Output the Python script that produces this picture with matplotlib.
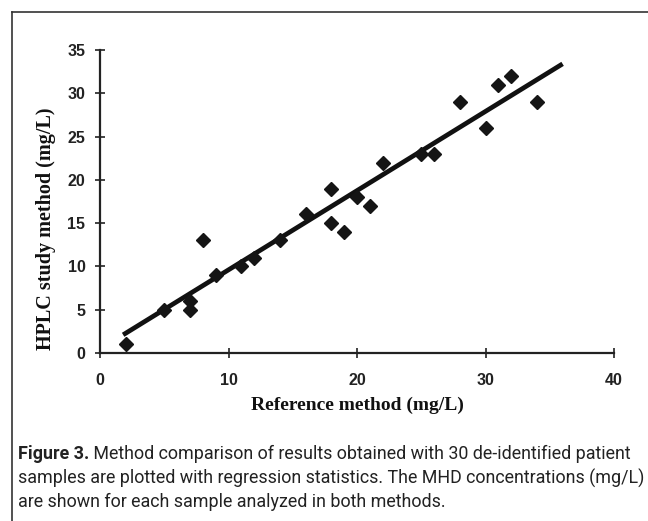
import matplotlib.pyplot as plt
from matplotlib.lines import Line2D

# reference method vs HPLC study method (mg/L)
ref_mgl = [2, 5, 7, 7, 8, 9, 11, 12, 14, 16, 18, 18, 19, 20, 21, 22,
           25, 26, 28, 30, 31, 32, 34]
hplc_mgl = [1, 5, 6, 5, 13, 9, 10, 11, 13, 16, 19, 15, 14, 18, 17, 22,
            23, 23, 29, 26, 31, 32, 29]

# regression line end points
fit_x = [1.8, 36.0]
fit_y = [2.1, 33.4]

x_ticks = [0, 10, 20, 30, 40]
y_ticks = [0, 5, 10, 15, 20, 25, 30, 35]

caption_bold = "Figure 3."
caption_lines = [
    " Method comparison of results obtained with 30 de-identified patient",
    "samples are plotted with regression statistics. The MHD concentrations (mg/L)",
    "are shown for each sample analyzed in both methods.",
]

W, H = 648, 521
fig = plt.figure(figsize=(W / 100, H / 100), dpi=100)
ax = fig.add_axes([100 / W, 1 - 353 / H, 514 / W, 303 / H])

ax.plot(fit_x, fit_y, color="#111111", linewidth=3.4, solid_capstyle="butt", zorder=2)
ax.plot(ref_mgl, hplc_mgl, linestyle="none", marker="D", markersize=7.6,
        color="#151515", zorder=3)

ax.set_xlim(0, 40)
ax.set_ylim(0, 35)
ax.set_xticks(x_ticks)
ax.set_yticks(y_ticks)

for side in ["top", "right"]:
    ax.spines[side].set_visible(False)
for side in ["left", "bottom"]:
    ax.spines[side].set_linewidth(1.6)
    ax.spines[side].set_color("#222222")

ax.tick_params(axis="both", direction="inout", length=7, width=1.2, colors="#222222")
ax.tick_params(axis="y", pad=7)
ax.tick_params(axis="x", pad=11)
for lbl in ax.get_xticklabels() + ax.get_yticklabels():
    lbl.set_fontfamily("Liberation Sans")
    lbl.set_fontweight("bold")
    lbl.set_fontsize(11.5)
    lbl.set_color("#222222")

ax.set_xlabel("Reference method (mg/L)", fontfamily="Liberation Serif",
              fontweight="bold", fontsize=14, color="#111111", va="center")
ax.set_ylabel("HPLC study method (mg/L)", fontfamily="Liberation Serif",
              fontweight="bold", fontsize=14.5, color="#111111", va="center")
ax.xaxis.set_label_coords(0.501, (353 - 405) / 303)
ax.yaxis.set_label_coords((46 - 100) / 514, (353 - 229) / 303)

# frame lines around the figure (left and top only)
fig.add_artist(Line2D([12 / W, 12 / W], [0.0, 1 - 12 / H], color="#333333",
                      linewidth=1.2, transform=fig.transFigure))
fig.add_artist(Line2D([12 / W, 1.0], [1 - 12 / H, 1 - 12 / H], color="#333333",
                      linewidth=1.2, transform=fig.transFigure))

# caption, fitted so the first line spans the same width as in the figure
cap_font = ["Roboto", "DejaVu Sans"]
cap_size = 13.0
y0 = 1 - 454 / H
dy = 24 / H
t_bold = fig.text(18 / W, y0, caption_bold, fontfamily=cap_font, fontweight="bold",
                  fontsize=cap_size, color="#222222", va="center", ha="left")
t_rest = fig.text(0, y0, caption_lines[0], fontfamily=cap_font, fontsize=cap_size,
                  color="#222222", va="center", ha="left")
fig.canvas.draw()
r = fig.canvas.get_renderer()
width = t_bold.get_window_extent(r).width + t_rest.get_window_extent(r).width
cap_size = cap_size * 612 / width
t_bold.set_fontsize(cap_size)
t_rest.set_fontsize(cap_size)
fig.canvas.draw()
t_rest.set_x(t_bold.get_window_extent(r).x1 / W)
for i, line in enumerate(caption_lines[1:], start=1):
    fig.text(18 / W, y0 - i * dy, line, fontfamily=cap_font, fontsize=cap_size,
             color="#222222", va="center", ha="left")

fig.savefig("out.png", dpi=100)
